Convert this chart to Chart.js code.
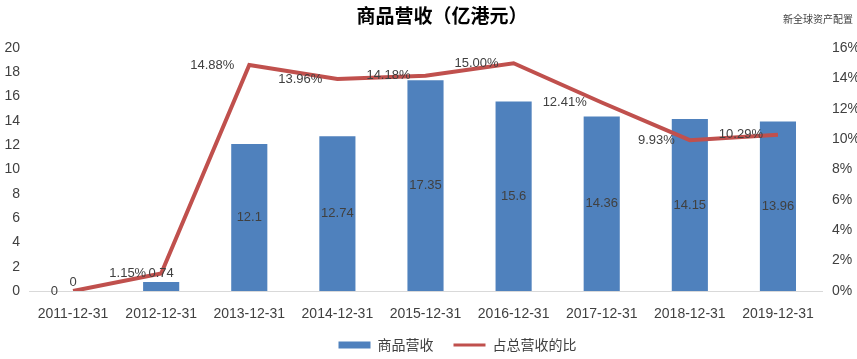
<!DOCTYPE html>
<html>
<head>
<meta charset="utf-8">
<script src="https://cdn.jsdelivr.net/npm/chart.js@4"></script>
<style>
  html, body { margin: 0; padding: 0; background: #fff; }
  #wrap { width: 857px; height: 359px; }
</style>
</head>
<body>
<div id="wrap"><canvas id="c" width="857" height="359"></canvas></div>
<script>
const categories = ['2011-12-31','2012-12-31','2013-12-31','2014-12-31','2015-12-31','2016-12-31','2017-12-31','2018-12-31','2019-12-31'];
const revenue = [0, 0.74, 12.1, 12.74, 17.35, 15.6, 14.36, 14.15, 13.96];
const sharePct = [0, 1.15, 14.88, 13.96, 14.18, 15.00, 12.41, 9.93, 10.29];
const leftTicks = [0, 2, 4, 6, 8, 10, 12, 14, 16, 18, 20];
const rightTicks = [0, 2, 4, 6, 8, 10, 12, 14, 16];
const titleText = '商品营收（亿港元）';
const watermarkText = '新全球资产配置';
const seriesNames = ['商品营收', '占总营收的比'];

const FONT = '"Liberation Sans", Arial, "Noto Sans CJK SC", sans-serif';
const CJK = '"Noto Sans CJK SC", "Liberation Sans", sans-serif';
const BLUE = '#4F81BD';
const RED = '#C0504D';
const TXT = '#404040';

const labelPlugin = {
  id: 'labelsAndTitle',
  afterLayout(chart) {
    // the reference legend sits right of centre
    if (chart.legend) {
      chart.legend.left += 29;
      chart.legend.right += 29;
    }
  },
  afterDatasetsDraw(chart) {
    const ctx = chart.ctx;
    ctx.save();
    const barMeta = chart.getDatasetMeta(0);
    ctx.font = '13px ' + FONT;
    ctx.fillStyle = TXT;
    ctx.textAlign = 'center';
    ctx.textBaseline = 'middle';
    barMeta.data.forEach((el, i) => {
      const v = revenue[i];
      const h = el.base - el.y;
      const y = h < 20 ? el.y - 9 : (el.y + el.base) / 2;
      ctx.fillText(String(v), el.x, y);
    });
    const lineMeta = chart.getDatasetMeta(1);
    ctx.textAlign = 'right';
    lineMeta.data.forEach((el, i) => {
      const v = sharePct[i];
      const s = v === 0 ? '0' : v.toFixed(2) + '%';
      ctx.fillText(s, el.x - 15, el.y);
    });
    ctx.restore();
  },
  afterDraw(chart) {
    const ctx = chart.ctx;
    ctx.save();
    ctx.textBaseline = 'middle';
    ctx.textAlign = 'center';
    ctx.fillStyle = '#000';
    ctx.font = 'bold 19px ' + CJK;
    ctx.fillText(titleText, 442, 16);
    ctx.font = '10px ' + CJK;
    ctx.fillStyle = TXT;
    ctx.textAlign = 'left';
    ctx.fillText(watermarkText, 783, 19);
    ctx.restore();
  }
};

new Chart(document.getElementById('c'), {
  data: {
    labels: categories,
    datasets: [
      {
        type: 'bar',
        label: seriesNames[0],
        data: revenue,
        backgroundColor: BLUE,
        borderWidth: 0,
        yAxisID: 'y',
        barPercentage: 0.41,
        categoryPercentage: 1.0,
        pointStyle: 'rect',
        order: 2
      },
      {
        type: 'line',
        label: seriesNames[1],
        data: sharePct,
        borderColor: RED,
        backgroundColor: RED,
        borderWidth: 4,
        pointRadius: 0,
        tension: 0,
        yAxisID: 'y1',
        pointStyle: 'line',
        order: 1
      }
    ]
  },
  options: {
    responsive: false,
    animation: false,
    layout: { padding: { top: 48, bottom: -3, left: 0, right: 0 } },
    plugins: {
      title: { display: false },
      tooltip: { enabled: false },
      legend: {
        position: 'bottom',
        labels: {
          usePointStyle: true,
          pointStyleWidth: 32,
          boxHeight: 7,
          padding: 20,
          color: TXT,
          font: { size: 14, family: CJK },
          sort: (a, b) => a.datasetIndex - b.datasetIndex,
          generateLabels(chart) {
            const items = Chart.defaults.plugins.legend.labels.generateLabels(chart);
            items.forEach(it => { if (it.datasetIndex === 1) it.lineWidth = 3; });
            return items;
          }
        }
      }
    },
    scales: {
      x: {
        grid: { display: false, drawTicks: false },
        border: { display: true, color: '#D9D9D9', width: 1 },
        ticks: { color: TXT, font: { size: 14, family: FONT }, padding: 15, maxRotation: 0, autoSkip: false },
        afterFit(s) { s.height = 27; }
      },
      y: {
        position: 'left',
        min: 0, max: 20,
        afterBuildTicks(s) { s.ticks = leftTicks.map(v => ({ value: v })); },
        grid: { display: false, drawTicks: false },
        border: { display: false },
        ticks: { color: TXT, font: { size: 14, family: FONT }, padding: 9 },
        afterFit(s) { s.width = 29; }
      },
      y1: {
        position: 'right',
        min: 0, max: 16,
        afterBuildTicks(s) { s.ticks = rightTicks.map(v => ({ value: v })); },
        grid: { display: false, drawTicks: false },
        border: { display: false },
        ticks: { color: TXT, font: { size: 14, family: FONT }, padding: 10, callback: v => v + '%' },
        afterFit(s) { s.width = 35; }
      }
    }
  },
  plugins: [labelPlugin]
});
</script>
</body>
</html>
